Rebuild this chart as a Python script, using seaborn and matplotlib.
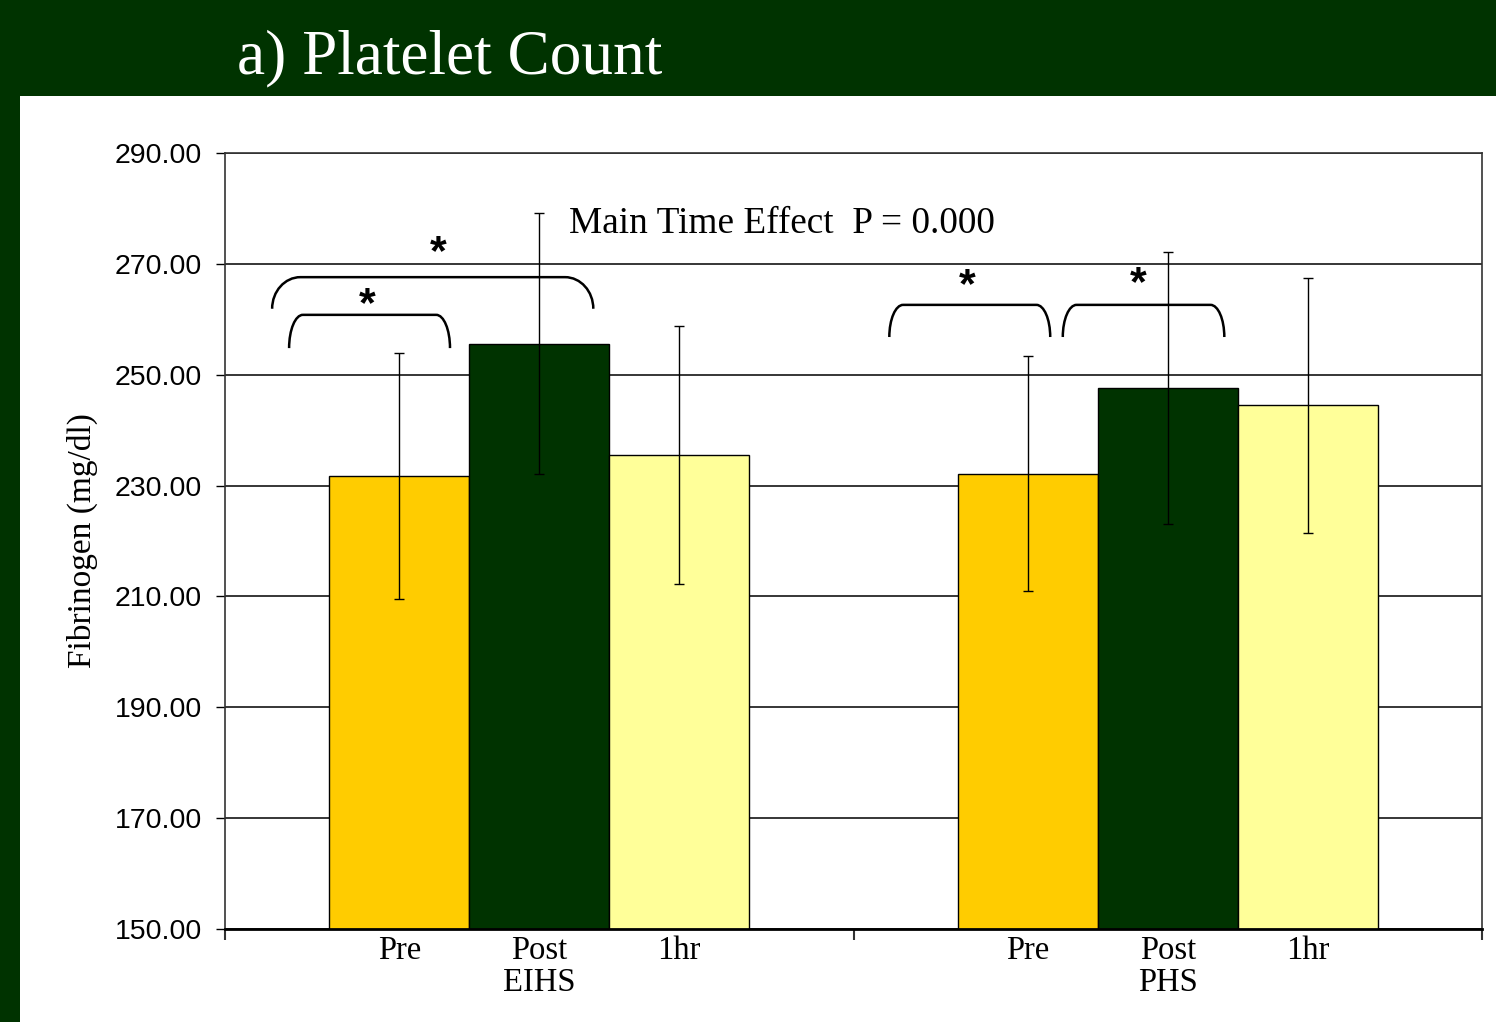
import matplotlib
matplotlib.use("Agg")
import matplotlib.pyplot as plt
from matplotlib.patches import Rectangle, PathPatch
from matplotlib.path import Path
from matplotlib.ticker import FormatStrFormatter
import numpy as np
import pandas as pd
import seaborn as sns

# ---- data ----
groups = ["EIHS", "PHS"]
times = ["Pre", "Post", "1hr"]
eihs_mean = [231.7, 255.6, 235.5]
eihs_sd = [22.2, 23.5, 23.2]
phs_mean = [232.1, 247.6, 244.5]
phs_sd = [21.2, 24.5, 23.0]
time_colors = ["#FFCC00", "#003300", "#FFFF99"]
y_ticks = [150, 170, 190, 210, 230, 250, 270, 290]

# significance brackets: (x_left, x_right, y_bottom, y_top, corner_width)
brackets = [
    (-0.425, 0.086, 261.9, 267.6, 0.045),
    (-0.398, -0.142, 254.8, 260.8, 0.022),
    (0.557, 0.813, 256.8, 262.6, 0.022),
    (0.833, 1.090, 256.8, 262.6, 0.022),
]
# asterisk positions (x, y)
stars = [(-0.161, 272.0), (-0.274, 262.6), (0.681, 265.9), (0.953, 266.4)]

BG = "#003300"
SERIF = "Liberation Serif"
SANS = "Liberation Sans"

df = pd.DataFrame({
    "group": np.repeat(groups, len(times)),
    "time": times * len(groups),
    "mean": eihs_mean + phs_mean,
    "sd": eihs_sd + phs_sd,
})

plt.rcParams["font.family"] = SANS

fig = plt.figure(figsize=(14.96, 10.22), dpi=100, facecolor=BG)
# white slide panel
fig.add_artist(Rectangle((20 / 1496, 0), 1, (1022 - 96) / 1022,
                         transform=fig.transFigure, facecolor="white",
                         edgecolor="none", zorder=0))
fig.text(237 / 1496, 1 - 73 / 1022, "a) Platelet Count", color="white",
         fontfamily=SERIF, fontsize=45.5, ha="left", va="baseline")

ax = fig.add_axes([225 / 1496, 1 - 929 / 1022, (1482 - 225) / 1496, (929 - 153) / 1022])
sns.barplot(data=df, x="group", y="mean", hue="time", order=groups,
            hue_order=times, palette=time_colors, width=0.668,
            edgecolor="black", linewidth=1.0, errorbar=None, legend=False,
            saturation=1, ax=ax, zorder=2)

# error bars at bar centres
xs, ys, es, labels = [], [], [], []
for container, t in zip(ax.containers, times):
    for bar, g in zip(container, groups):
        row = df[(df["group"] == g) & (df["time"] == t)].iloc[0]
        xs.append(bar.get_x() + bar.get_width() / 2)
        ys.append(row["mean"])
        es.append(row["sd"])
        labels.append(f"{t}\n{g}" if t == "Post" else t)
ax.errorbar(xs, ys, yerr=es, fmt="none", ecolor="black", elinewidth=1.0,
            capsize=3.6, capthick=1.0, zorder=3)

ax.set_xlim(-0.5, 1.5)
ax.set_ylim(150, 290)
ax.set_yticks(y_ticks)
ax.yaxis.set_major_formatter(FormatStrFormatter("%.2f"))
ax.yaxis.grid(True, color="black", linewidth=1.1)
ax.set_axisbelow(True)

order = np.argsort(xs)
ax.set_xticks([xs[i] for i in order], [labels[i] for i in order])
ax.set_xticks([-0.5, 0.5, 1.5], minor=True)
ax.tick_params(axis="x", which="major", length=0, pad=5)
ax.tick_params(axis="x", which="minor", length=8, width=1.5, color="#333333")
ax.tick_params(axis="y", length=6.5, width=1, pad=10, labelsize=20.5)
for lbl in ax.get_xticklabels():
    lbl.set_fontfamily(SERIF)
    lbl.set_fontsize(23.5)
    lbl.set_linespacing(1.05)

ax.set_xlabel("")
ax.set_ylabel("Fibrinogen (mg/dl)", fontfamily=SERIF, fontsize=24, labelpad=12)

for side in ["left", "right", "top"]:
    ax.spines[side].set_linewidth(1.2)
    ax.spines[side].set_color("#333333")
ax.spines["bottom"].set_linewidth(2)
ax.spines["bottom"].set_color("black")

ax.text(0.0473, 277.2, "Main Time Effect  P = 0.000", fontfamily=SERIF,
        fontsize=26.8, ha="left", va="center", zorder=5)

k = 0.5523
for x0, x1, yb, yt, cw in brackets:
    h = yt - yb
    verts = [(x0, yb), (x0, yb + k * h), (x0 + cw * (1 - k), yt), (x0 + cw, yt),
             (x1 - cw, yt),
             (x1 - cw * (1 - k), yt), (x1, yb + k * h), (x1, yb)]
    codes = [Path.MOVETO, Path.CURVE4, Path.CURVE4, Path.CURVE4, Path.LINETO,
             Path.CURVE4, Path.CURVE4, Path.CURVE4]
    ax.add_patch(PathPatch(Path(verts, codes), facecolor="none",
                           edgecolor="black", linewidth=1.8, zorder=5))

for sx, sy in stars:
    ax.text(sx, sy, "*", fontfamily=SANS, fontsize=31, fontweight="bold",
            ha="center", va="center", zorder=5)

fig.savefig("out.png", dpi=100, facecolor=BG)
